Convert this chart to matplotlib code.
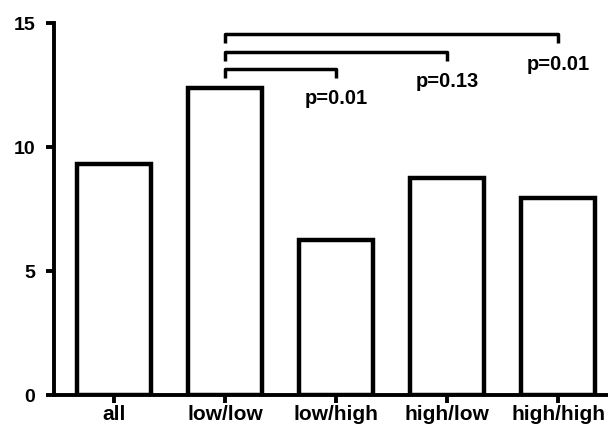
import matplotlib.pyplot as plt

plt.rcParams['font.family'] = ['Liberation Sans', 'DejaVu Sans']
plt.rcParams['font.weight'] = 'bold'

groups = ['all', 'low/low', 'low/high', 'high/low', 'high/high']
values = [9.3, 12.38, 6.25, 8.75, 7.94]

# comparisons against low/low
comp_targets = [2, 3, 4]
comp_heights = [13.15, 13.83, 14.56]
comp_labels = ['p=0.01', 'p=0.13', 'p=0.01']
label_heights = [11.96, 12.64, 13.33]

fig = plt.figure(figsize=(6.08, 4.28), dpi=100)
ax = fig.add_axes([0.0888, 0.0771, 0.9112, 0.869])

x = list(range(len(groups)))
ax.bar(x, values, width=0.66, facecolor='white', edgecolor='black', linewidth=3.2)

for t, h, lab, ly in zip(comp_targets, comp_heights, comp_labels, label_heights):
    ax.plot([1, 1, t, t], [h - 0.36, h, h, h - 0.36], color='black', lw=2.5,
            solid_capstyle='butt', clip_on=False)
    ax.text(t, ly, lab, ha='center', va='center', fontsize=14.5, fontweight='bold')

ax.set_xlim(-0.54, 4.45)
ax.set_ylim(0, 15)
ax.set_yticks([0, 5, 10, 15])
ax.set_xticks(x)
ax.set_xticklabels(groups, fontsize=15)
ax.spines['top'].set_visible(False)
ax.spines['right'].set_visible(False)
ax.spines['left'].set_linewidth(2.8)
ax.spines['bottom'].set_linewidth(2.8)
ax.tick_params(axis='both', width=2.8, length=5.5)
ax.tick_params(axis='y', labelsize=14, pad=8)
ax.tick_params(axis='x', pad=2)

fig.savefig('out.png', dpi=100)
